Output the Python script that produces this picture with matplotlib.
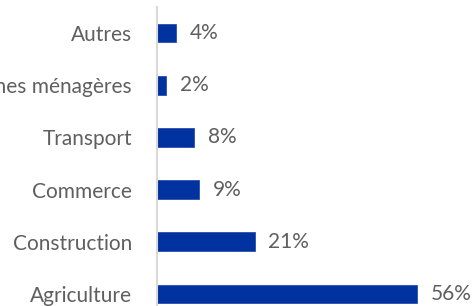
import matplotlib
matplotlib.use("Agg")
import matplotlib.pyplot as plt

# --- Data ---
categories = ["Agriculture", "Construction", "Commerce", "Transport",
              "Personnes ménagères", "Autres"]
values = [56, 21, 9, 8, 2, 4]
value_labels = ["56%", "21%", "9%", "8%", "2%", "4%"]

plt.rcParams.update(
    {
        "font.family": ["Lato", "DejaVu Sans"],
        "font.size": 15,
    }
)

fig = plt.figure(figsize=(4.76, 3.06), dpi=100)
ax = fig.add_axes([157 / 476, -14 / 306, 302 / 476, 313 / 306])

pos = list(range(len(categories)))
ax.barh(pos, values, height=0.36, color="#0033a0", edgecolor="#2a4fb0",
        linewidth=0.6)

for p, v, lab in zip(pos, values, value_labels):
    ax.annotate(lab, (v, p), xytext=(10, 0), textcoords="offset points",
                va="center", ha="left", color="#5f5f5f")

ax.set_xlim(0, 65)
ax.set_ylim(-0.5, 5.5)
ax.set_yticks(pos)
ax.set_yticklabels(categories, color="#5f5f5f")
ax.tick_params(axis="y", length=0, pad=18)
ax.set_xticks([])

for s in ["top", "right", "bottom"]:
    ax.spines[s].set_visible(False)
ax.spines["left"].set_color("#d9d9d9")
ax.spines["left"].set_linewidth(1.5)

fig.savefig("out.png", dpi=100)
